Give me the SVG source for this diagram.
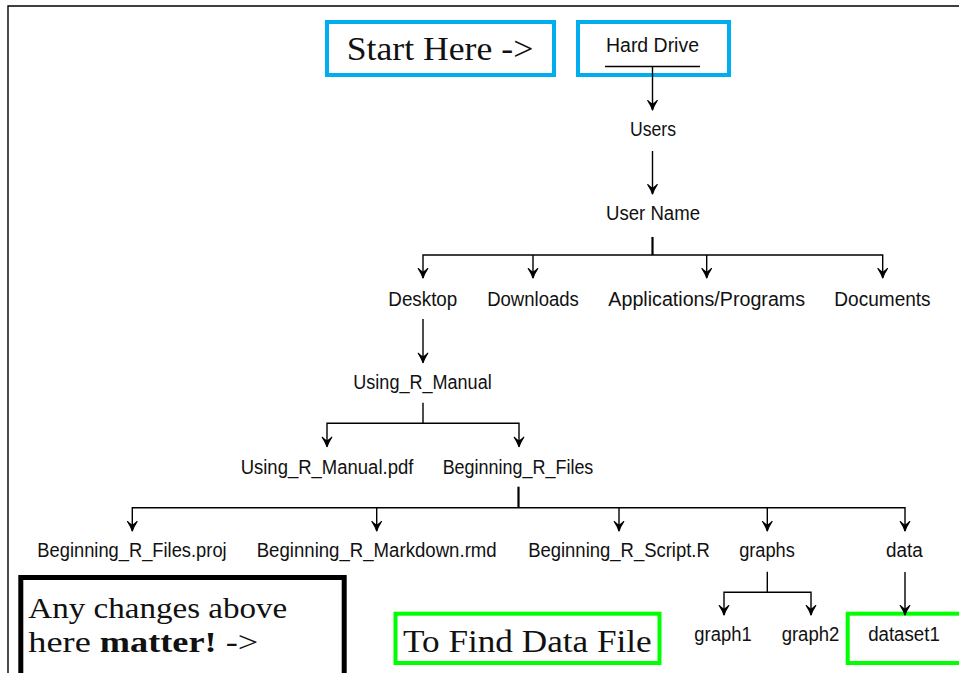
<svg xmlns="http://www.w3.org/2000/svg" width="959" height="673" viewBox="0 0 959 673">
<defs>
<style>
.lbl{font-family:"Liberation Sans",Arial,sans-serif;font-size:19.5px;fill:#111;text-anchor:middle}
.ser{font-family:"Liberation Serif","Times New Roman",serif;fill:#111}
.c{fill:none;stroke:#000;stroke-width:1.4}
.stem{fill:none;stroke:#000;stroke-width:2.2}
.blue{fill:none;stroke:#00AEEF;stroke-width:4}
.green{fill:none;stroke:#00FF00;stroke-width:4}
</style>
<marker id="ah" markerUnits="userSpaceOnUse" markerWidth="14" markerHeight="14" viewBox="-12 -7 14 14" refX="0" refY="0" orient="auto-start-reverse" overflow="visible">
<path d="M-9.5,-4.8 Q-4.2,-1.4 0,0 Q-4.2,1.4 -9.5,4.8 Q-6.2,1.4 -5.8,0 Q-6.2,-1.4 -9.5,-4.8 Z" fill="#000" stroke="#000" stroke-width="1.1" stroke-linejoin="round"/>
</marker>
</defs>
<rect width="959" height="673" fill="#fff"/>
<path d="M8,673 V6 H959" fill="none" stroke="#000" stroke-width="1.4"/>

<g id="start-here">
<rect class="blue" x="327" y="22" width="227" height="53"/>
<text class="ser" x="346.7" y="60" font-size="33" textLength="186.6" lengthAdjust="spacingAndGlyphs">Start Here -&gt;</text>
</g>
<g id="hard-drive">
<rect class="blue" x="578" y="22" width="151" height="53"/>
<text class="lbl" x="652.5" y="52" textLength="93" lengthAdjust="spacingAndGlyphs">Hard Drive</text>
<line x1="605" y1="66.5" x2="700" y2="66.5" stroke="#000" stroke-width="1.4"/>
</g>
<g id="users"><text class="lbl" x="653" y="136" textLength="46" lengthAdjust="spacingAndGlyphs">Users</text></g>
<g id="user-name"><text class="lbl" x="653" y="219.5" textLength="94" lengthAdjust="spacingAndGlyphs">User Name</text></g>
<g id="desktop"><text class="lbl" x="422.8" y="306" textLength="69" lengthAdjust="spacingAndGlyphs">Desktop</text></g>
<g id="downloads"><text class="lbl" x="533" y="306" textLength="91.7" lengthAdjust="spacingAndGlyphs">Downloads</text></g>
<g id="applications"><text class="lbl" x="706.7" y="306" textLength="196.7" lengthAdjust="spacingAndGlyphs">Applications/Programs</text></g>
<g id="documents"><text class="lbl" x="882.5" y="306" textLength="96.3" lengthAdjust="spacingAndGlyphs">Documents</text></g>
<g id="using-r-manual"><text class="lbl" x="422.5" y="388.5" textLength="138.4" lengthAdjust="spacingAndGlyphs">Using_R_Manual</text></g>
<g id="using-r-manual-pdf"><text class="lbl" x="327" y="474" textLength="172.7" lengthAdjust="spacingAndGlyphs">Using_R_Manual.pdf</text></g>
<g id="beginning-r-files"><text class="lbl" x="518" y="474" textLength="150.7" lengthAdjust="spacingAndGlyphs">Beginning_R_Files</text></g>
<g id="proj"><text class="lbl" x="132" y="556.5" textLength="189.3" lengthAdjust="spacingAndGlyphs">Beginning_R_Files.proj</text></g>
<g id="markdown"><text class="lbl" x="376.7" y="556.5" textLength="240" lengthAdjust="spacingAndGlyphs">Beginning_R_Markdown.rmd</text></g>
<g id="script"><text class="lbl" x="619" y="556.5" textLength="181.7" lengthAdjust="spacingAndGlyphs">Beginning_R_Script.R</text></g>
<g id="graphs"><text class="lbl" x="767" y="556.5" textLength="55.7" lengthAdjust="spacingAndGlyphs">graphs</text></g>
<g id="data"><text class="lbl" x="904.3" y="556.5" textLength="36.7" lengthAdjust="spacingAndGlyphs">data</text></g>
<g id="graph1"><text class="lbl" x="723" y="641" textLength="57.3" lengthAdjust="spacingAndGlyphs">graph1</text></g>
<g id="graph2"><text class="lbl" x="810.5" y="641" textLength="57.7" lengthAdjust="spacingAndGlyphs">graph2</text></g>
<g id="dataset1">
<rect class="green" x="847.7" y="613.7" width="116" height="49.3"/>
<text class="lbl" x="904" y="641" textLength="71.7" lengthAdjust="spacingAndGlyphs">dataset1</text>
</g>
<g id="to-find">
<rect class="green" x="395.5" y="613.7" width="264" height="49.3"/>
<text class="ser" x="403" y="651.7" font-size="32" textLength="248.7" lengthAdjust="spacingAndGlyphs">To Find Data File</text>
</g>
<g id="any-changes">
<rect x="20.8" y="577.5" width="323.4" height="130" fill="none" stroke="#000" stroke-width="5"/>
<text class="ser" x="28.3" y="618.3" font-size="30" textLength="259" lengthAdjust="spacingAndGlyphs">Any changes above</text>
<text class="ser" x="28.3" y="651.7" font-size="30" textLength="230" lengthAdjust="spacingAndGlyphs">here <tspan font-weight="bold">matter!</tspan> -&gt;</text>
</g>

<g id="connectors">
<line class="c" x1="652.5" y1="67" x2="652.5" y2="110" marker-end="url(#ah)"/>
<line class="c" x1="652.5" y1="151" x2="652.5" y2="194" marker-end="url(#ah)"/>
<line class="stem" x1="652.5" y1="237" x2="652.5" y2="255"/>
<path class="c" d="M423,278 V255 H882.7 V278" marker-start="url(#ah)" marker-end="url(#ah)"/>
<line class="c" x1="533" y1="255" x2="533" y2="278" marker-end="url(#ah)"/>
<line class="c" x1="706.7" y1="255" x2="706.7" y2="278" marker-end="url(#ah)"/>
<line class="c" x1="423" y1="319" x2="423" y2="362.7" marker-end="url(#ah)"/>
<line class="c" x1="423" y1="402.7" x2="423" y2="423.3"/>
<path class="c" d="M327,446.7 V423.3 H519 V446.7" marker-start="url(#ah)" marker-end="url(#ah)"/>
<line class="stem" x1="518.5" y1="486.7" x2="518.5" y2="507.7"/>
<path class="c" d="M132.3,531 V507.7 H905 V531" marker-start="url(#ah)" marker-end="url(#ah)"/>
<line class="c" x1="376.7" y1="507.7" x2="376.7" y2="531" marker-end="url(#ah)"/>
<line class="c" x1="619" y1="507.7" x2="619" y2="531" marker-end="url(#ah)"/>
<line class="c" x1="767.3" y1="507.7" x2="767.3" y2="531" marker-end="url(#ah)"/>
<line class="c" x1="767.3" y1="571.7" x2="767.3" y2="592.3"/>
<path class="c" d="M724,615 V592.3 H811 V615" marker-start="url(#ah)" marker-end="url(#ah)"/>
<line class="c" x1="905" y1="572" x2="905" y2="615" marker-end="url(#ah)"/>
</g>
</svg>
